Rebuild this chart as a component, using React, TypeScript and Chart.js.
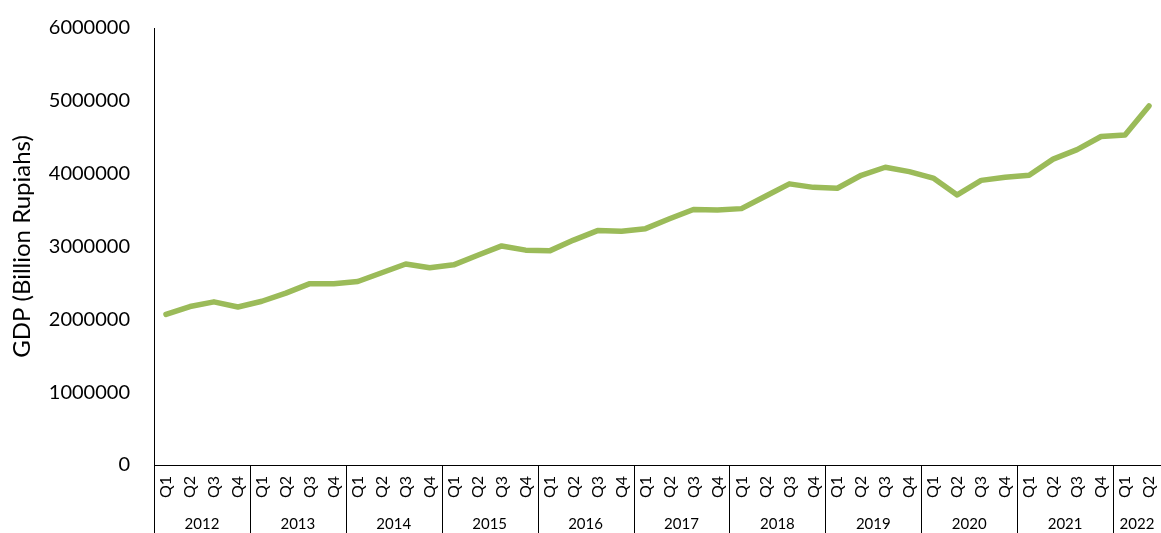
import React, { useEffect, useRef } from "react";
import { Chart, registerables } from "chart.js";

Chart.register(...registerables);

const years: string[] = ["2012", "2013", "2014", "2015", "2016", "2017", "2018", "2019", "2020", "2021", "2022"];
const quarters: string[] = [
  "Q1", "Q2", "Q3", "Q4", "Q1", "Q2", "Q3", "Q4", "Q1", "Q2", "Q3", "Q4",
  "Q1", "Q2", "Q3", "Q4", "Q1", "Q2", "Q3", "Q4", "Q1", "Q2", "Q3", "Q4",
  "Q1", "Q2", "Q3", "Q4", "Q1", "Q2", "Q3", "Q4", "Q1", "Q2", "Q3", "Q4",
  "Q1", "Q2", "Q3", "Q4", "Q1", "Q2",
];
const gdp: number[] = [
  2068000, 2176000, 2240000, 2170000,
  2248000, 2360000, 2490000, 2488000,
  2520000, 2640000, 2760000, 2708000,
  2748000, 2880000, 3008000, 2950000,
  2940000, 3088000, 3218000, 3208000,
  3245000, 3380000, 3508000, 3500000,
  3520000, 3690000, 3860000, 3812000,
  3800000, 3978000, 4088000, 4028000,
  3940000, 3708000, 3908000, 3950000,
  3978000, 4200000, 4330000, 4510000,
  4530000, 4930000,
];
const yTicks: number[] = [0, 1000000, 2000000, 3000000, 4000000, 5000000, 6000000];
const yTitle = "GDP (Billion Rupiahs)";

const FONT = "Lato";

const yearAxisPlugin = {
  id: "yearAxis",
  afterDraw(chart: any) {
    const { ctx, chartArea, scales } = chart;
    const x = scales.x;
    const step = x.getPixelForValue(1) - x.getPixelForValue(0);
    const bottom = chart.height;
    ctx.save();
    ctx.strokeStyle = "#000";
    ctx.lineWidth = 1;
    ctx.fillStyle = "#000";
    ctx.font = `15px ${FONT}`;
    ctx.textAlign = "center";
    ctx.textBaseline = "middle";
    years.forEach((yr, k) => {
      const start = k * 4;
      const end = Math.min(start + 3, quarters.length - 1);
      const left = x.getPixelForValue(start) - step / 2;
      const right = x.getPixelForValue(end) + step / 2;
      const lx = Math.round(left) + 0.5;
      ctx.beginPath();
      ctx.moveTo(lx, chartArea.bottom);
      ctx.lineTo(lx, bottom);
      ctx.stroke();
      ctx.fillText(yr, (left + right) / 2, 524);
    });
    ctx.restore();
  },
};

export default function App() {
  const ref = useRef<HTMLCanvasElement | null>(null);
  useEffect(() => {
    document.body.style.margin = "0";
    const chart = new Chart(ref.current as HTMLCanvasElement, {
      type: "line",
      data: {
        labels: quarters,
        datasets: [
          {
            data: gdp,
            borderColor: "#9BBB59",
            backgroundColor: "#9BBB59",
            borderWidth: 5.5,
            pointRadius: 0,
            tension: 0,
            borderCapStyle: "round",
            borderJoinStyle: "round",
          },
        ],
      },
      options: {
        responsive: false,
        animation: false,
        layout: { padding: { top: 28, right: 0, left: 0, bottom: 0 } },
        plugins: { legend: { display: false }, tooltip: { enabled: false } },
        scales: {
          x: {
            type: "category",
            offset: true,
            grid: { display: false, drawTicks: false },
            border: { display: true, color: "#000", width: 1 },
            ticks: {
              autoSkip: false,
              maxRotation: 90,
              minRotation: 90,
              padding: 11,
              color: "#000",
              font: { family: FONT, size: 16 },
            },
            afterFit: (s: any) => {
              s.height = 68;
              s.paddingLeft = 0;
              s.paddingRight = 0;
              s.paddingTop = 0;
              s.paddingBottom = 0;
            },
          },
          y: {
            min: 0,
            max: 6000000,
            afterBuildTicks: (s: any) => {
              s.ticks = yTicks.map((v) => ({ value: v }));
            },
            grid: { display: false, drawTicks: false },
            border: { display: true, color: "#000", width: 1 },
            ticks: {
              padding: 24,
              color: "#000",
              font: { family: FONT, size: 20 },
              callback: (v: any) => String(v),
            },
            title: {
              display: true,
              text: yTitle,
              color: "#000",
              font: { family: FONT, size: 24 },
              padding: { top: 8, bottom: 0 },
            },
            afterFit: (s: any) => {
              s.width = 154;
              s.paddingTop = 0;
              s.paddingBottom = 0;
            },
          },
        },
      },
      plugins: [yearAxisPlugin],
    });
    return () => chart.destroy();
  }, []);
  return (
    <div style={{ position: "fixed", left: 0, top: 0, width: 1161, height: 533, background: "#fff" }}>
      <canvas ref={ref} width={1161} height={533} />
    </div>
  );
}
